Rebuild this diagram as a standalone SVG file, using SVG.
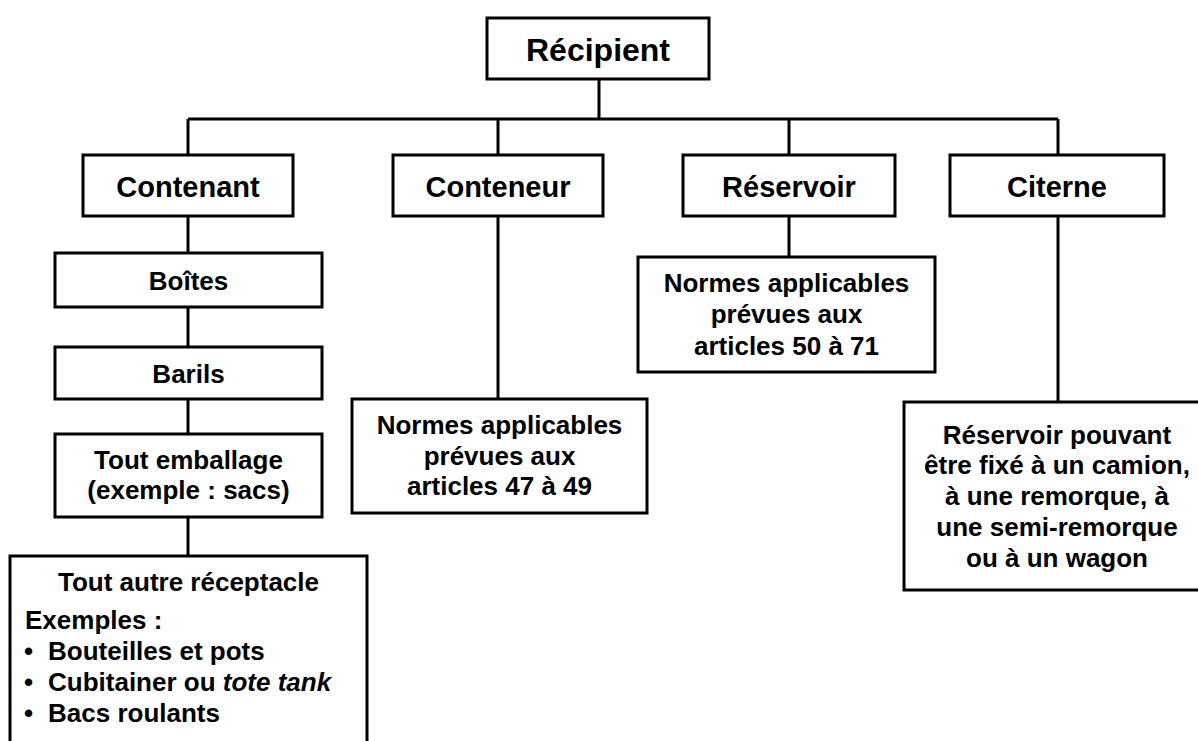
<svg xmlns="http://www.w3.org/2000/svg" width="1198" height="741" viewBox="0 0 1198 741">
<style>
.box{fill:#fff;stroke:#000;stroke-width:3}
.ln{fill:none;stroke:#000;stroke-width:3}
text{font-family:"Liberation Sans",Arial,sans-serif;font-weight:bold;fill:#000}
.t1{font-size:32px;text-anchor:middle}
.t2{font-size:29px;text-anchor:middle}
.t3{font-size:26px;text-anchor:middle}
.t4{font-size:26px}
</style>
<rect width="1198" height="741" fill="#fff"/>
<g id="connectors">
<path class="ln" d="M599 79V119M188 119H1058M188 119V155M498 119V155M789 119V155M1058 119V155"/>
<path class="ln" d="M188 216V253M188 307V347M188 399V434M188 517V556"/>
<path class="ln" d="M498 216V399M789 216V257M1058 216V402"/>
</g>
<g id="recipient"><rect class="box" x="487" y="18" width="222" height="61"/><text class="t1" x="598" y="61">Récipient</text></g>
<g id="contenant"><rect class="box" x="83" y="155" width="210" height="61"/><text class="t2" x="188" y="197">Contenant</text></g>
<g id="conteneur"><rect class="box" x="393" y="155" width="210" height="61"/><text class="t2" x="498" y="197">Conteneur</text></g>
<g id="reservoir"><rect class="box" x="683" y="155" width="212" height="61"/><text class="t2" x="789" y="197">Réservoir</text></g>
<g id="citerne"><rect class="box" x="950" y="155" width="214" height="61"/><text class="t2" x="1057" y="197">Citerne</text></g>
<g id="boites"><rect class="box" x="55" y="253" width="267" height="54"/><text class="t3" x="188.5" y="290">Boîtes</text></g>
<g id="barils"><rect class="box" x="55" y="347" width="267" height="52"/><text class="t3" x="188.5" y="383">Barils</text></g>
<g id="emballage"><rect class="box" x="55" y="434" width="267" height="83"/><text class="t3" x="188.5" y="469">Tout emballage</text><text class="t3" x="188.5" y="499">(exemple : sacs)</text></g>
<g id="autre"><rect class="box" x="10" y="556" width="357" height="200"/>
<text class="t3" x="188.5" y="591">Tout autre réceptacle</text>
<text class="t4" x="25" y="629">Exemples :</text>
<text class="t4" x="24" y="660">•</text><text class="t4" x="48" y="660">Bouteilles et pots</text>
<text class="t4" x="24" y="691">•</text><text class="t4" x="48" y="691">Cubitainer ou <tspan font-style="italic">tote tank</tspan></text>
<text class="t4" x="24" y="722">•</text><text class="t4" x="48" y="722">Bacs roulants</text>
</g>
<g id="normes-conteneur"><rect class="box" x="352" y="399" width="295" height="114"/>
<text class="t3" x="499.5" y="434">Normes applicables</text>
<text class="t3" x="499.5" y="465">prévues aux</text>
<text class="t3" x="499.5" y="495">articles 47 à 49</text></g>
<g id="normes-reservoir"><rect class="box" x="638" y="257" width="297" height="115"/>
<text class="t3" x="786.5" y="292">Normes applicables</text>
<text class="t3" x="786.5" y="323">prévues aux</text>
<text class="t3" x="786.5" y="355">articles 50 à 71</text></g>
<g id="citerne-desc"><rect class="box" x="904" y="402" width="310" height="188"/>
<text class="t3" x="1057" y="444">Réservoir pouvant</text>
<text class="t3" x="1057" y="474">être fixé à un camion,</text>
<text class="t3" x="1057" y="505">à une remorque, à</text>
<text class="t3" x="1057" y="536">une semi-remorque</text>
<text class="t3" x="1057" y="567">ou à un wagon</text></g>
</svg>
